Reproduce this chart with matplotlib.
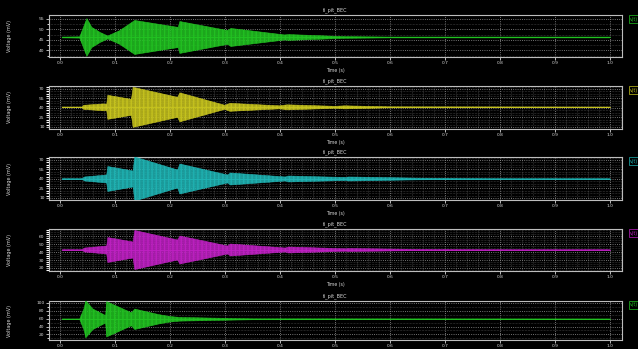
import numpy as np
import matplotlib
matplotlib.use("Agg")
import matplotlib.pyplot as plt
from matplotlib.ticker import MultipleLocator, AutoMinorLocator

BG = "#000000"
GRID = "#6a6a6a"
SPINE = "#bdbdbd"
TXT = "#d8d8d8"

# envelope breakpoints (time in s, half-amplitude in mV)
t1 = [0.004, 0.036, 0.044, 0.049, 0.058, 0.073, 0.087, 0.109, 0.136, 0.215, 0.218,
      0.305, 0.311, 0.409, 0.415, 0.518, 0.60, 1.0]
a1 = [0.2, 0.3, 5.7, 9.0, 4.8, 2.4, 0.7, 3.3, 8.1, 4.8, 7.6,
      3.3, 4.3, 1.2, 1.4, 0.4, 0.2, 0.2]
base1 = 46.2

t2 = [0.004, 0.040, 0.043, 0.080, 0.085, 0.087, 0.130, 0.133, 0.214, 0.218,
      0.300, 0.309, 0.400, 0.413, 0.500, 0.518, 0.600, 1.0]
a2 = [0.5, 0.5, 3.2, 5.5, 4.7, 19.0, 12.6, 31.6, 15.8, 22.9,
      3.2, 6.3, 2.4, 4.0, 1.6, 2.4, 0.8, 0.5]
base2 = 41.0

t3 = [0.004, 0.040, 0.045, 0.085, 0.087, 0.133, 0.136, 0.214, 0.218, 0.305, 0.310,
      0.410, 0.415, 0.520, 0.525, 0.650, 0.800, 1.0]
a3 = [0.5, 0.5, 3.2, 6.3, 19.7, 12.6, 34.8, 14.2, 23.7, 6.3, 9.5,
      3.2, 4.7, 2.4, 3.2, 1.3, 0.5, 0.5]
base3 = 40.0

t4 = [0.004, 0.040, 0.045, 0.085, 0.087, 0.133, 0.136, 0.214, 0.218, 0.305, 0.310,
      0.410, 0.415, 0.520, 0.525, 0.650, 0.800, 1.0]
a4 = [0.4, 0.4, 2.5, 5.0, 15.6, 10.0, 24.4, 12.5, 17.5, 5.0, 7.5,
      2.5, 3.75, 1.5, 1.9, 0.75, 0.4, 0.4]
base4 = 42.5

t5 = [0.004, 0.036, 0.044, 0.047, 0.060, 0.083, 0.085, 0.130, 0.136, 0.180,
      0.200, 0.218, 0.300, 0.350, 1.0]
a5 = [0.9, 0.9, 28.0, 47.0, 26.0, 9.4, 44.7, 16.5, 25.9, 11.8,
      7.0, 4.7, 2.4, 1.2, 0.9]
base5 = 58.4

# y ticks / limits per panel
yt1 = [40, 45, 50, 55]
yt2 = [10, 25, 40, 55, 70]
yt3 = [10, 25, 40, 55, 70]
yt4 = [20, 30, 40, 50, 60]
yt5 = [20, 40, 60, 80, 100]
xt = [0.0, 0.1, 0.2, 0.3, 0.4, 0.5, 0.6, 0.7, 0.8, 0.9, 1.0]

panels = [
    (t1, a1, base1, yt1, (36.9, 56.9), "#22c422", [0.0768, 0.8367, 0.898, 0.1203], False, True),
    (t2, a2, base2, yt2, (6.8, 74.7), "#c9c61e", [0.0768, 0.6304, 0.898, 0.1232], True, True),
    (t3, a3, base3, yt3, (6.8, 74.7), "#1fb5b5", [0.0768, 0.4269, 0.898, 0.1232], True, True),
    (t4, a4, base4, yt4, (16.25, 68.75), "#c020c4", [0.0768, 0.2235, 0.898, 0.1203], True, True),
    (t5, a5, base5, yt5, (5.9, 104.7), "#22c422", [0.0768, 0.0258, 0.898, 0.1117], False, False),
]

fig = plt.figure(figsize=(6.38, 3.49), dpi=100, facecolor=BG)

for t, a, base, yt, ylim, col, pos, dense, xlab in panels:
    ax = fig.add_axes(pos)
    ax.set_facecolor(BG)
    t = np.array(t)
    a = np.array(a)
    ax.fill_between(t, base - a, base + a, facecolor=col, edgecolor=col,
                    linewidth=0.4, alpha=0.85, hatch="||||", zorder=3)
    ax.plot(t, np.full(len(t), base), color=col, lw=0.6, zorder=4)

    ax.set_xlim(-0.02, 1.022)
    ax.set_ylim(*ylim)
    ax.set_xticks(xt)
    ax.set_xticklabels(["%.1f" % v for v in xt])
    ax.set_yticks(yt)

    if dense:
        ax.xaxis.set_minor_locator(MultipleLocator(0.02))
        ax.yaxis.set_minor_locator(AutoMinorLocator(4))
        ax.grid(which="minor", color=GRID, ls=":", lw=0.4, zorder=1)
        ax.tick_params(which="minor", axis="y", colors="white", length=2.5, width=0.8)
        ax.tick_params(which="minor", axis="x", length=0)
    else:
        ax.yaxis.set_minor_locator(AutoMinorLocator(2))
        ax.grid(which="minor", axis="y", color=GRID, ls=":", lw=0.4, zorder=1)
        ax.tick_params(which="minor", axis="y", colors="white", length=1.5)
    ax.grid(which="major", color="#9a9a9a", ls=":", lw=0.6, zorder=1)
    ax.tick_params(which="major", colors=TXT, labelsize=3.2, length=2, width=0.6, pad=1.2)

    for s in ax.spines.values():
        s.set_color(SPINE)
        s.set_linewidth(0.8)

    ax.set_title("fi_pit_BEC", fontsize=3.5, color=TXT, pad=2.5)
    if xlab:
        ax.set_xlabel("Time (s)", fontsize=3.3, color=TXT, labelpad=1.5)
    ax.set_ylabel("Voltage (mV)", fontsize=3.5, color=TXT)
    ax.yaxis.set_label_coords(-0.065, 0.5)

    ax.text(1.014, 0.9, "v(t)", transform=ax.transAxes, fontsize=3.3, color=col,
            ha="left", va="center",
            bbox=dict(boxstyle="square,pad=0.3", facecolor=BG, edgecolor=col, lw=0.5))

fig.savefig("out.png", dpi=100, facecolor=BG)
